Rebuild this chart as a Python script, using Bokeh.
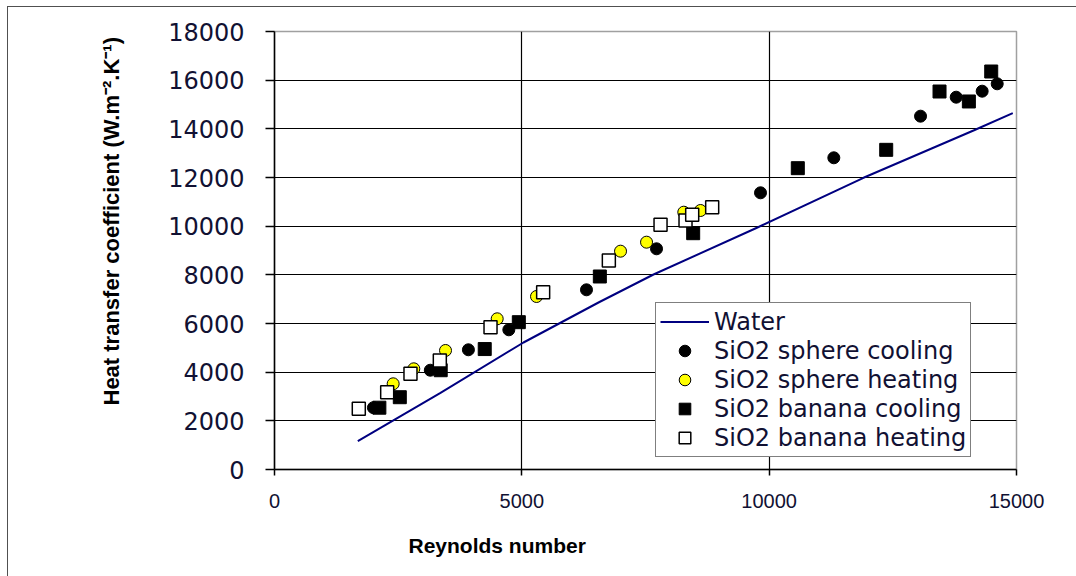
from bokeh.plotting import figure
from bokeh.models import Legend, LegendItem, Title, FixedTicker, Range1d
from bokeh.embed import file_html
from bokeh.resources import INLINE

# ---- data ----
water_re = [1684, 3356, 5034, 6550, 7662, 9764, 11907, 14131, 14925]
water_h = [1163, 3152, 5219, 6863, 8014, 9945, 11988, 13932, 14643]

sphere_cool_re = [2000, 3150, 3920, 4737, 6307, 7723, 9825, 11307, 13060, 13781, 14306, 14610]
sphere_cool_h = [2540, 4080, 4920, 5741, 7385, 9070, 11371, 12810, 14520, 15300, 15547, 15851]

sphere_heat_re = [2399, 2816, 3457, 4502, 5297, 6995, 7521, 8274, 8612]
sphere_heat_h = [3522, 4138, 4891, 6193, 7110, 8972, 9342, 10574, 10644]

banana_cool_re = [2120, 2533, 3360, 4250, 4939, 6577, 8464, 10579, 12366, 13444, 14037, 14489]
banana_cool_h = [2540, 2971, 4080, 4950, 6054, 7932, 9711, 12383, 13137, 15534, 15124, 16356]

banana_heat_re = [1704, 2278, 2749, 3342, 4367, 5431, 6759, 7804, 8309, 8444, 8848]
banana_heat_h = [2495, 3177, 3933, 4480, 5848, 7287, 8589, 10056, 10233, 10467, 10780]

x_ticks = [0, 5000, 10000, 15000]
y_ticks = [0, 2000, 4000, 6000, 8000, 10000, 12000, 14000, 16000, 18000]
x_grid = [5000, 10000]
y_grid = [2000, 4000, 6000, 8000, 10000, 12000, 14000, 16000]

p = figure(
    width=1076, height=576,
    frame_width=742, frame_height=438,
    min_border_left=274, min_border_top=31, min_border_right=60, min_border_bottom=107,
    x_range=Range1d(0, 15000), y_range=Range1d(0, 18000),
    output_backend="svg", toolbar_location=None,
    background_fill_color="white", border_fill_color="white", border_fill_alpha=0,
)
# outer chart frame (left and top edges visible in the reference)
p.styles = {
    "background": "linear-gradient(#505050,#505050) 7px 6px / 1px 570px no-repeat, "
                  "linear-gradient(#505050,#505050) 7px 6px / 1069px 1px no-repeat, white"
}
p.outline_line_color = "#a0a0a0"
p.outline_line_width = 1.5

# grid
p.xgrid.ticker = FixedTicker(ticks=x_grid)
p.ygrid.ticker = FixedTicker(ticks=y_grid)
for g in (p.xgrid, p.ygrid):
    g.grid_line_color = "black"
    g.grid_line_width = 1.2

# axes
p.xaxis.ticker = FixedTicker(ticks=x_ticks)
p.yaxis.ticker = FixedTicker(ticks=y_ticks)
for ax in (p.xaxis, p.yaxis):
    ax.axis_line_color = "black"
    ax.axis_line_width = 1.5
    ax.major_tick_line_color = "black"
    ax.major_tick_line_width = 1.5
    ax.minor_tick_line_color = None
    ax.major_tick_in = 0
    ax.major_label_text_color = "#111133"
p.xaxis.major_tick_out = 6
p.yaxis.major_tick_out = 9
p.xaxis.major_label_standoff = 18
p.yaxis.major_label_standoff = 21
p.xaxis.major_label_text_font = "Liberation Sans"
p.xaxis.major_label_text_font_size = "20px"
p.yaxis.major_label_text_font = "DejaVu Sans"
p.yaxis.major_label_text_font_size = "24px"

# axis titles
p.add_layout(Title(text="Reynolds number", align="left", offset=134, standoff=42,
                   text_font="Liberation Sans", text_font_size="21px",
                   text_font_style="bold", text_color="black"), "below")
p.add_layout(Title(text="Heat transfer coefficient  (W.m\u207b\u00b2.K\u207b\u00b9)",
                   align="left", offset=64, standoff=84,
                   text_font="Liberation Sans", text_font_size="22px",
                   text_font_style="bold", text_color="black"), "left")

# series
r_water = p.line(water_re, water_h, line_color="#000080", line_width=2)
r_sc = p.scatter(sphere_cool_re, sphere_cool_h, marker="circle", size=12,
                 fill_color="black", line_color="black")
r_sh = p.scatter(sphere_heat_re, sphere_heat_h, marker="circle", size=12,
                 fill_color="#ffff00", line_color="black", line_width=1)
r_bc = p.scatter(banana_cool_re, banana_cool_h, marker="square", size=13,
                 fill_color="black", line_color="black")
r_bh = p.scatter(banana_heat_re, banana_heat_h, marker="square", size=13,
                 fill_color="white", line_color="black", line_width=1.5)

legend = Legend(
    items=[
        LegendItem(label="Water", renderers=[r_water]),
        LegendItem(label="SiO2 sphere cooling", renderers=[r_sc]),
        LegendItem(label="SiO2 sphere heating", renderers=[r_sh]),
        LegendItem(label="SiO2 banana cooling", renderers=[r_bc]),
        LegendItem(label="SiO2 banana heating", renderers=[r_bh]),
    ],
    location=(381, 12),
    border_line_color="black", border_line_width=1.5,
    background_fill_color="white", background_fill_alpha=1,
    label_text_font="DejaVu Sans", label_text_font_size="24px", label_text_color="#111133",
    label_height=29, glyph_height=29, glyph_width=49, label_standoff=5,
    padding=4, spacing=0, margin=0,
)
p.add_layout(legend)

open("out.html", "w").write(file_html(p, INLINE))
